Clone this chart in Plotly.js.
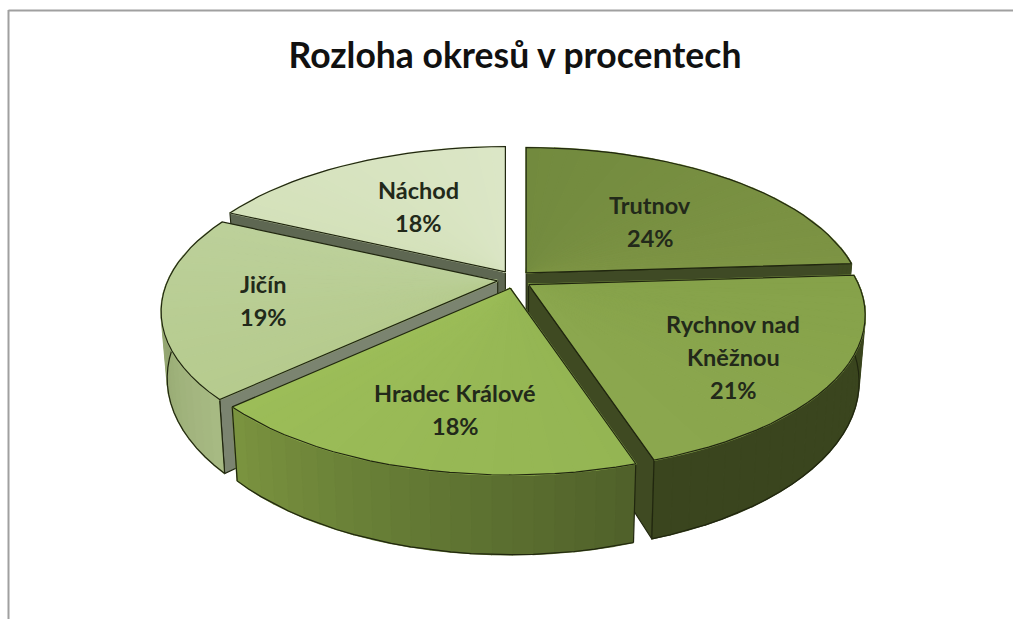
<!DOCTYPE html>
<html><head><meta charset="utf-8">
<script src="https://cdn.plot.ly/plotly-3.0.1.min.js"></script>
<style>html,body{margin:0;padding:0;background:#fff}#c{width:1013px;height:619px}</style>
</head><body><div id="c"></div>
<script>
// Data
const categories = ["Trutnov", "Rychnov nad Kněžnou", "Hradec Králové", "Jičín", "Náchod"];
const percents = [24, 21, 18, 19, 18];
const titleText = "Rozloha okresů v procentech";

// Styles per slice
const topFrom  = ["#728a3e", "#86a24a", "#94b553", "#b6cb8e", "#d4e1ba"];
const topTo    = ["#7d9444", "#8ba74e", "#9cbd58", "#bcd09a", "#dbe6c6"];
const wallFrom = ["#3f4b22", "#3a451e", "#7b9440", "#a8bb84", "#8a9a70"];
const wallMid  = ["#3f4b22", "#3a451e", "#647a34", "#98aa74", "#8a9a70"];
const wallTo   = ["#3f4b22", "#3a451e", "#4f6029", "#8a9c6c", "#8a9a70"];
const edgeCol  = ["#3f4a25", "#3f4a22", "#56692e", "#7b8470", "#5e6752"];

// Projection of the tilted disc
const CX = 514.5, CY = 279.5, RX = 330, RY = 150, P = 0.197, DEPTH = 64, EX = 17, EY = 9;
const rad = d => d * Math.PI / 180;
function proj(ax, ay, r, th, down) {
  const X = r * Math.sin(rad(th)), Y = -r * Math.cos(rad(th));
  const k = 1 / (1 - P * Y);
  const shrink = down ? 0.982 : 1;
  return [ax + X * RX * k * shrink, ay + Y * RY * k + (down ? DEPTH * k : 0)];
}
function hex(c) { return [1, 3, 5].map(i => parseInt(c.substr(i, 2), 16)); }
function mix(a, b, t) {
  const A = hex(a), B = hex(b);
  return "rgb(" + A.map((v, i) => Math.round(v + (B[i] - v) * t)).join(",") + ")";
}
const traces = [];
function poly(pts, color, lineCol, lineW) {
  traces.push({
    type: "scatter", mode: "lines", fill: "toself", fillcolor: color,
    x: pts.map(p => p[0]), y: pts.map(p => p[1]),
    line: { color: lineCol || color, width: lineW === undefined ? 1.6 : lineW },
    hoverinfo: "skip", showlegend: false
  });
}
function outline(pts) {
  traces.push({
    type: "scatter", mode: "lines",
    x: pts.map(p => p[0]), y: pts.map(p => p[1]),
    line: { color: "#20260f", width: 1.2 },
    hoverinfo: "skip", showlegend: false
  });
}

// angular extents from the values
let acc = 0;
const spans = percents.map(v => { const s = acc; acc += v; return [s * 3.6, acc * 3.6]; });

function drawSlice(i) {
  const [s, e] = spans[i];
  const mid = (s + e) / 2;
  const ax = CX + EX * Math.sin(rad(mid)), ay = CY - EY * Math.cos(rad(mid));
  // radial walls
  if (Math.sin(rad(s)) < 0) {
    const q = [proj(ax, ay, 0, s), proj(ax, ay, 1, s), proj(ax, ay, 1, s, true), proj(ax, ay, 0, s, true), proj(ax, ay, 0, s)];
    poly(q, edgeCol[i], "#20260f", 1.1);
  }
  if (Math.sin(rad(e)) > 0) {
    const q = [proj(ax, ay, 0, e), proj(ax, ay, 1, e), proj(ax, ay, 1, e, true), proj(ax, ay, 0, e, true), proj(ax, ay, 0, e)];
    poly(q, edgeCol[i], "#20260f", 1.1);
  }
  // outer wall
  const a0 = Math.max(s, 80), a1 = Math.min(e, 280);
  if (a1 > a0) {
    const n = Math.ceil((a1 - a0) / 3);
    for (let j = 0; j < n; j++) {
      const t0 = a0 + (a1 - a0) * j / n, t1 = a0 + (a1 - a0) * (j + 1) / n;
      let t = (j + 0.5) / n;
      if (s > 90 && s < 180 && e > 180) t = 1 - t; // Hradec: runs from the right corner
      const c = t < 0.5 ? mix(wallFrom[i], wallMid[i], t * 2) : mix(wallMid[i], wallTo[i], t * 2 - 1);
      poly([proj(ax, ay, 1, t0), proj(ax, ay, 1, t1), proj(ax, ay, 1, t1, true), proj(ax, ay, 1, t0, true)], c);
    }
    const lower = [];
    for (let j = 0; j <= n; j++) lower.push(proj(ax, ay, 1, a0 + (a1 - a0) * j / n, true));
    outline(lower);
    if (s >= 90 && s <= 270) outline([proj(ax, ay, 1, s), proj(ax, ay, 1, s, true)]);
    if (e >= 90 && e <= 270) outline([proj(ax, ay, 1, e), proj(ax, ay, 1, e, true)]);
  }
  // top face
  const n = Math.ceil((e - s) / 3);
  const rim = [];
  for (let j = 0; j < n; j++) {
    const t0 = s + (e - s) * j / n, t1 = s + (e - s) * (j + 1) / n;
    poly([proj(ax, ay, 0, t0), proj(ax, ay, 1, t0), proj(ax, ay, 1, t1)], mix(topFrom[i], topTo[i], (j + 0.5) / n));
  }
  for (let j = 0; j <= n; j++) rim.push(proj(ax, ay, 1, s + (e - s) * j / n));
  outline([proj(ax, ay, 0, s)].concat(rim, [proj(ax, ay, 0, e)], [proj(ax, ay, 0, s)]));
}
// painter's order: back to front
[4, 0, 3, 1, 2].forEach(drawSlice);

// Labels
const labelLines = [
  [categories[0], percents[0] + "%"],
  ["Rychnov nad", "Kněžnou", percents[1] + "%"],
  [categories[2], percents[2] + "%"],
  [categories[3], percents[3] + "%"],
  [categories[4], percents[4] + "%"]
];
const labelX = [650, 733, 455, 263, 418];
const labelY = [205, 324, 393, 284, 190];
const LINE = 33;
const annotations = [];
labelLines.forEach((lines, i) => lines.forEach((txt, j) => annotations.push({
  x: labelX[i], y: labelY[i] + j * LINE, xref: "x", yref: "y", text: "<b>" + txt + "</b>",
  showarrow: false, xanchor: "center", yanchor: "middle",
  font: { family: "Lato, 'Open Sans', sans-serif", size: 23.5, color: "#22291a" }
})));

const layout = {
  width: 1013, height: 619,
  margin: { l: 0, r: 0, t: 0, b: 0 },
  paper_bgcolor: "#fff", plot_bgcolor: "#fff",
  showlegend: false,
  title: { text: "<b>" + titleText + "</b>", x: 515 / 1013, xanchor: "center", y: 1 - 56 / 619, yanchor: "middle",
           font: { family: "Lato, 'Open Sans', sans-serif", size: 35.5, color: "#111" } },
  xaxis: { range: [0, 1013], visible: false, fixedrange: true },
  yaxis: { range: [619, 0], visible: false, fixedrange: true },
  annotations,
  shapes: [
    { type: "line", xref: "paper", yref: "paper", x0: 8.5 / 1013, x1: 1, y0: 1 - 10.5 / 619, y1: 1 - 10.5 / 619,
      line: { color: "#a0a0a0", width: 2 }, layer: "below" },
    { type: "line", xref: "paper", yref: "paper", x0: 8.5 / 1013, x1: 8.5 / 1013, y0: 1 - 10 / 619, y1: 0,
      line: { color: "#a0a0a0", width: 2 }, layer: "below" }
  ]
};
Plotly.newPlot("c", traces, layout, { displayModeBar: false, staticPlot: true });
</script></body></html>
